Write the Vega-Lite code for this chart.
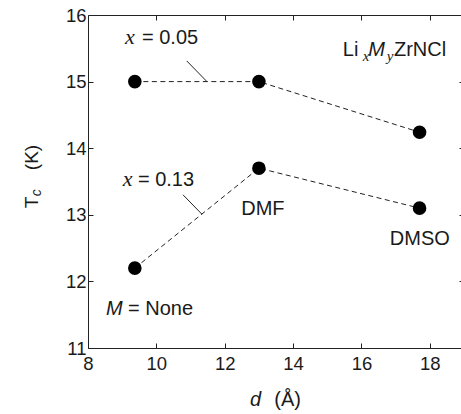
{
  "$schema": "https://vega.github.io/schema/vega-lite/v6.json",
  "width": 376,
  "height": 333,
  "autosize": {"type": "none"},
  "padding": {"left": 88, "top": 15, "right": 0, "bottom": 66},
  "background": "white",
  "config": {
    "view": {"stroke": "#222222", "strokeWidth": 1},
    "axis": {
      "grid": false,
      "title": null,
      "domain": false,
      "offset": -5,
      "tickColor": "#222222",
      "tickWidth": 1,
      "tickSize": 5,
      "labelFont": "Liberation Sans",
      "labelFontSize": 18.5,
      "labelColor": "#1a1a1a",
      "labelFlush": false,
      "labelOverlap": false
    },
    "text": {"font": "Liberation Sans", "fontSize": 20, "color": "#1a1a1a"}
  },
  "datasets": {
    "tc": [
      {"d": 9.37, "tc": 15.0, "x": "0.05"},
      {"d": 13.0, "tc": 15.0, "x": "0.05"},
      {"d": 17.7, "tc": 14.24, "x": "0.05"},
      {"d": 9.37, "tc": 12.2, "x": "0.13"},
      {"d": 13.0, "tc": 13.7, "x": "0.13"},
      {"d": 17.7, "tc": 13.1, "x": "0.13"}
    ],
    "leaders": [
      {"d": 10.89, "tc": 15.31, "d2": 11.48, "tc2": 15.0},
      {"d": 10.78, "tc": 13.3, "d2": 11.33, "tc2": 13.01}
    ],
    "sansLeft": [
      {"text": "= 0.05", "d": 9.58, "tc": 15.565},
      {"text": "= 0.13", "d": 9.46, "tc": 13.437},
      {"text": "= None", "d": 9.17, "tc": 11.495},
      {"text": "Li", "d": 15.456, "tc": 15.384},
      {"text": "ZrNCl", "d": 16.95, "tc": 15.384},
      {"text": "(Å)", "d": 13.45, "tc": 10.129}
    ],
    "sansCenter": [
      {"text": "DMF", "d": 13.117, "tc": 12.997},
      {"text": "DMSO", "d": 17.708, "tc": 12.547}
    ],
    "serifItalic": [
      {"text": "x", "d": 9.08, "tc": 15.565},
      {"text": "x", "d": 9.02, "tc": 13.437}
    ],
    "serifSub": [
      {"text": "x", "d": 16.04, "tc": 15.309},
      {"text": "y", "d": 16.74, "tc": 15.309}
    ],
    "sansItalic": [
      {"text": "M", "d": 8.526, "tc": 11.495},
      {"text": "M", "d": 16.2, "tc": 15.384},
      {"text": "d", "d": 12.737, "tc": 10.129}
    ],
    "yTitle": [
      {"text": "T", "d": 6.55, "tc": 13.1, "part": "main"},
      {"text": "(K)", "d": 6.55, "tc": 13.67, "part": "unit"}
    ],
    "yTitleSub": [
      {"text": "c", "d": 6.62, "tc": 13.28}
    ]
  },
  "resolve": {"axis": {"x": "independent", "y": "independent"}},
  "layer": [
    {
      "data": {"name": "tc"},
      "mark": {"type": "line", "color": "#222222", "strokeWidth": 1, "strokeDash": [5, 3.5]},
      "encoding": {
        "x": {"field": "d", "type": "quantitative", "scale": {"domain": [8, 19], "nice": false, "zero": false},
              "axis": {"orient": "bottom", "values": [8, 10, 12, 14, 16, 18], "labelPadding": 6}},
        "y": {"field": "tc", "type": "quantitative", "scale": {"domain": [11, 16], "nice": false, "zero": false},
              "axis": {"orient": "left", "values": [11, 12, 13, 14, 15, 16], "labelPadding": 2}},
        "detail": {"field": "x"}
      }
    },
    {
      "data": {"name": "tc"},
      "mark": {"type": "circle", "size": 185, "color": "black", "opacity": 1},
      "encoding": {
        "x": {"field": "d", "type": "quantitative",
              "axis": {"orient": "top", "values": [10, 12, 14, 16, 18], "labels": false}},
        "y": {"field": "tc", "type": "quantitative",
              "axis": {"orient": "right", "values": [12, 13, 14, 15], "labels": false}}
      }
    },
    {
      "data": {"name": "leaders"},
      "mark": {"type": "rule", "color": "#222222", "strokeWidth": 1},
      "encoding": {
        "x": {"field": "d", "type": "quantitative", "axis": null},
        "y": {"field": "tc", "type": "quantitative", "axis": null},
        "x2": {"field": "d2"},
        "y2": {"field": "tc2"}
      }
    },
    {
      "data": {"name": "sansLeft"},
      "mark": {"type": "text", "align": "left", "baseline": "alphabetic"},
      "encoding": {
        "x": {"field": "d", "type": "quantitative", "axis": null},
        "y": {"field": "tc", "type": "quantitative", "axis": null},
        "text": {"field": "text"}
      }
    },
    {
      "data": {"name": "sansCenter"},
      "mark": {"type": "text", "align": "center", "baseline": "alphabetic"},
      "encoding": {
        "x": {"field": "d", "type": "quantitative", "axis": null},
        "y": {"field": "tc", "type": "quantitative", "axis": null},
        "text": {"field": "text"}
      }
    },
    {
      "data": {"name": "serifItalic"},
      "mark": {"type": "text", "align": "left", "baseline": "alphabetic", "font": "Liberation Serif", "fontStyle": "italic", "fontSize": 22},
      "encoding": {
        "x": {"field": "d", "type": "quantitative", "axis": null},
        "y": {"field": "tc", "type": "quantitative", "axis": null},
        "text": {"field": "text"}
      }
    },
    {
      "data": {"name": "serifSub"},
      "mark": {"type": "text", "align": "left", "baseline": "alphabetic", "font": "Liberation Serif", "fontStyle": "italic", "fontSize": 15},
      "encoding": {
        "x": {"field": "d", "type": "quantitative", "axis": null},
        "y": {"field": "tc", "type": "quantitative", "axis": null},
        "text": {"field": "text"}
      }
    },
    {
      "data": {"name": "sansItalic"},
      "mark": {"type": "text", "align": "left", "baseline": "alphabetic", "fontStyle": "italic"},
      "encoding": {
        "x": {"field": "d", "type": "quantitative", "axis": null},
        "y": {"field": "tc", "type": "quantitative", "axis": null},
        "text": {"field": "text"}
      }
    },
    {
      "data": {"name": "yTitle"},
      "mark": {"type": "text", "align": "left", "baseline": "alphabetic", "angle": 270, "fontSize": 19},
      "encoding": {
        "x": {"field": "d", "type": "quantitative", "axis": null},
        "y": {"field": "tc", "type": "quantitative", "axis": null},
        "text": {"field": "text"},
        "fontStyle": {"field": "part", "type": "nominal", "scale": {"domain": ["main", "unit"], "range": ["italic", "normal"]}, "legend": null}
      }
    },
    {
      "data": {"name": "yTitleSub"},
      "mark": {"type": "text", "align": "left", "baseline": "alphabetic", "angle": 270, "fontSize": 14, "fontStyle": "italic"},
      "encoding": {
        "x": {"field": "d", "type": "quantitative", "axis": null},
        "y": {"field": "tc", "type": "quantitative", "axis": null},
        "text": {"field": "text"}
      }
    }
  ]
}
